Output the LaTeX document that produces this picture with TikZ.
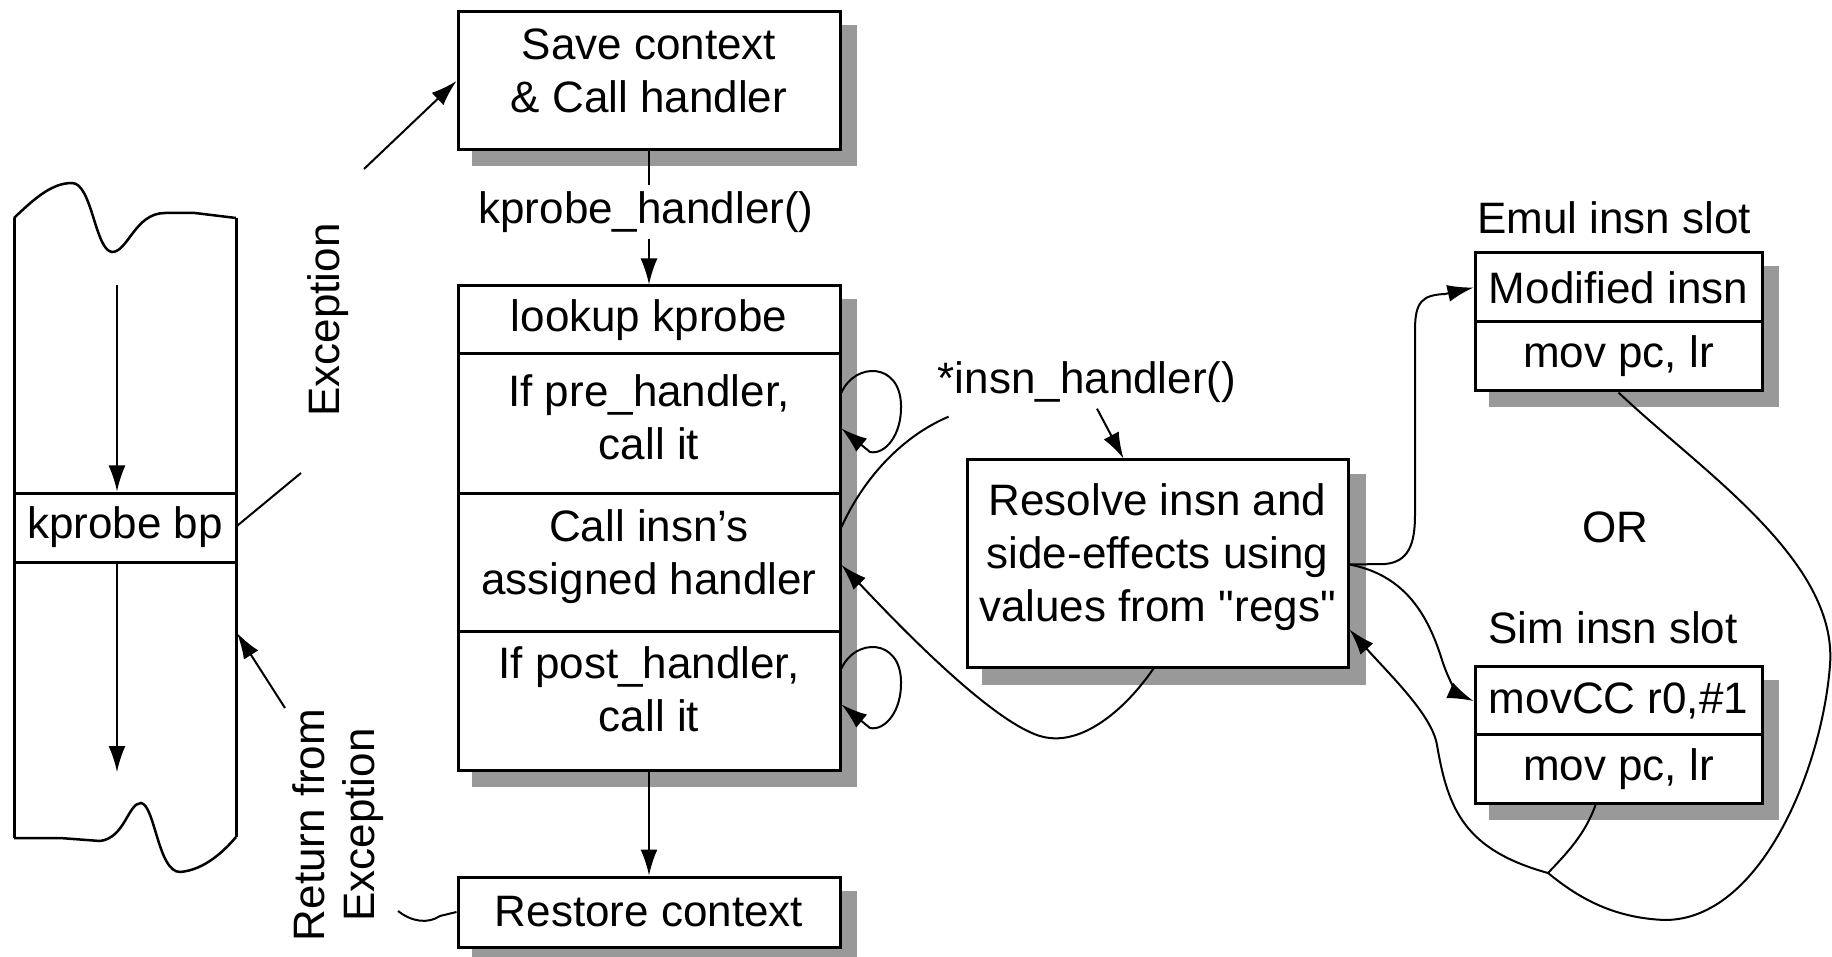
\documentclass[tikz,border=0pt]{standalone}
\usepackage{fontspec}
\setmainfont{Liberation Sans}
\usetikzlibrary{arrows.meta,calc}
\pgfdeclarelayer{background}
\pgfsetlayers{background,main}
\begin{document}
\begin{tikzpicture}[x=1pt,y=-1pt,
  every node/.style={font=\fontsize{44}{53}\selectfont, inner sep=0pt},
  cell/.style={draw, line width=3pt, fill=white, align=center, minimum width=382pt},
  slotcell/.style={cell, minimum width=287pt, minimum height=69pt},
  txt/.style={align=center},
  lbl/.style={inner sep=6pt},
  link/.style={line width=2pt},
  arr/.style={link, -{Latex[length=26pt,width=17pt]}},
  shade/.style={fill=black!40},
]
\path[use as bounding box] (0,0) rectangle (1832,957);

% ---- interrupted instruction stream ----
\node[draw, line width=3pt, fill=white, minimum width=222pt, minimum height=69pt] (kbp) at (125,527.5) {kprobe bp};
\draw[line width=3pt] (14,218) -- (14,838);
\draw[line width=3pt] (236,218) -- (236,837);
\draw[line width=2.5pt] (14,218) .. controls (35,198) and (52,183) .. (72,183)
  .. controls (92,183) and (95,250) .. (112,252)
  .. controls (128,252) and (135,213) .. (165,213) -- (195,213) -- (236,218);
\draw[line width=2.5pt] (14,838) -- (60,838) -- (100,841)
  .. controls (125,838) and (128,803) .. (141,803)
  .. controls (155,805) and (158,872) .. (180,872)
  .. controls (205,870) and (225,850) .. (236,837);
\coordinate (flowtop) at (117,285);
\coordinate (flowbot) at (117,772);
\draw[arr] (flowtop) -- (flowtop |- kbp.north);
\draw[arr] (flowbot |- kbp.south) -- (flowbot);

% ---- exception entry / return ----
\node[rotate=90] (exc) at (328,320) {Exception};
\node[rotate=90, align=center, font=\fontsize{44}{50}\selectfont] (retlbl) at (338,825) {Return from\\Exception};
\coordinate (excA) at (301,473);
\coordinate (excB) at (364,169);
\coordinate (retA) at (285,708);
\coordinate (stripR) at (237,633);
\coordinate (retB) at (398,911);

% ---- kprobe handler column ----
\node[cell, minimum height=138pt] (save) at (649,81) {};
\node[txt] (savetxt) at ([yshift=10pt]save.center) {Save context\\\& Call handler};
\node[lbl] (kh) at (646,212) {kprobe\_handler()};
\node[cell, minimum height=68pt] (lookup) at (649,320) {lookup kprobe};
\node[cell, minimum height=139pt] (pre) at (649,423.5) {};
\node[txt] (pretxt) at ([yshift=6pt]pre.center) {If pre\_handler,\\call it};
\node[cell, minimum height=138pt] (call) at (649,562) {};
\node[txt] (calltxt) at ([yshift=5pt]call.center) {Call insn’s\\assigned handler};
\node[cell, minimum height=139pt] (post) at (649,700.5) {};
\node[txt] (posttxt) at ([yshift=11pt]post.center) {If post\_handler,\\call it};
\node[cell, minimum height=70pt] (restore) at (649,912) {Restore context};

% ---- instruction handler ----
\node[lbl] (ih) at (1087,382) {*insn\_handler()};
\node[cell, minimum width=381pt, minimum height=207pt] (resolve) at (1157.5,563.5) {};
\node[txt] (resolvetxt) at ([yshift=6pt]resolve.center) {Resolve insn and\\side-effects using\\values from \textquotedbl regs\textquotedbl};

% ---- instruction slots ----
\node (emullbl) at (1614,218) {Emul insn slot};
\node[slotcell] (modi) at (1618.5,287.5) {Modified insn};
\node[slotcell] (mov1) at (1618.5,356.5) {mov pc, lr};
\node (or) at (1615,527) {OR};
\node (simlbl) at (1613,628) {Sim insn slot};
\node[slotcell] (movcc) at (1618.5,701) {movCC r0,\#1};
\node[slotcell] (mov2) at (1618.5,769) {mov pc, lr};

% ---- drop shadows ----
\begin{pgfonlayer}{background}
\fill[shade] ([shift={(15pt,-15pt)}]save.north west) rectangle ([shift={(15pt,-15pt)}]save.south east);
\fill[shade] ([shift={(15pt,-15pt)}]lookup.north west) rectangle ([shift={(15pt,-15pt)}]post.south east);
\fill[shade] ([shift={(15pt,-15pt)}]restore.north west) rectangle ([shift={(15pt,-15pt)}]restore.south east);
\fill[shade] ([shift={(16pt,-16pt)}]resolve.north west) rectangle ([shift={(16pt,-16pt)}]resolve.south east);
\fill[shade] ([shift={(15pt,-15pt)}]modi.north west) rectangle ([shift={(15pt,-15pt)}]mov1.south east);
\fill[shade] ([shift={(15pt,-15pt)}]movcc.north west) rectangle ([shift={(15pt,-15pt)}]mov2.south east);
\end{pgfonlayer}

% ---- connectors ----
\draw[link] ([yshift=2pt]kbp.east) -- (excA);
\draw[arr] (excB) -- (save.west);
\draw[arr] (retA) -- (stripR);
\draw[link] (retB) .. controls (412,922) and (428,924) .. (440,916) -- (restore.west);

\draw[link] (save.south) -- (save.south |- kh.north);
\draw[arr] (lookup.north |- kh.south) -- (lookup.north);
\draw[arr] (post.south) -- (restore.north);

% handler self loops
\draw[arr] ([yshift=31pt]pre.east) .. controls (855,362) and (900,362) .. (901,405)
  .. controls (902,435) and (885,455) .. (870,452) -- ([yshift=-5pt]pre.east);
\draw[arr] ([yshift=32pt]post.east) .. controls (855,638) and (900,638) .. (901,681)
  .. controls (902,711) and (885,731) .. (870,728) -- ([yshift=-4pt]post.east);

% call into the instruction handler and back
\draw[link] ([yshift=35pt]call.east) .. controls (865,475) and (905,435) .. ([shift={(17pt,-8pt)}]ih.south west);
\draw[arr] ([xshift=10pt]ih.south) -- ([xshift=-34pt]resolve.north);
\draw[arr] ([xshift=-4pt]resolve.south) .. controls (1125,710) and (1085,742) .. (1050,738)
  .. controls (1000,735) and (880,605) .. ([yshift=-3pt]call.east);

% out to the slots
\draw[arr] ([yshift=-1pt]resolve.east) -- (1385,564) .. controls (1408,562) and (1415,545) .. (1415,515)
  -- (1415,330) .. controls (1415,302) and (1422,295) .. (1445,294) -- (modi.west);
\draw[arr] ([yshift=-1pt]resolve.east) .. controls (1405,575) and (1428,615) .. (1442,660)
  .. controls (1450,685) and (1460,695) .. (movcc.west);

% back from the slots
\coordinate (jn) at (1548,873);
\draw[link] (mov1.south) .. controls (1700,470) and (1838,560) .. (1830,665)
  .. controls (1822,770) and (1760,920) .. (1665,920)
  .. controls (1610,918) and (1575,895) .. (jn);
\draw[arr] (jn) .. controls (1465,850) and (1448,810) .. (1437,745)
  .. controls (1432,715) and (1390,675) .. ([yshift=-66pt]resolve.east);
\draw[link] ([xshift=-23pt]mov2.south) .. controls (1585,835) and (1565,855) .. (jn);
\end{tikzpicture}
\end{document}
